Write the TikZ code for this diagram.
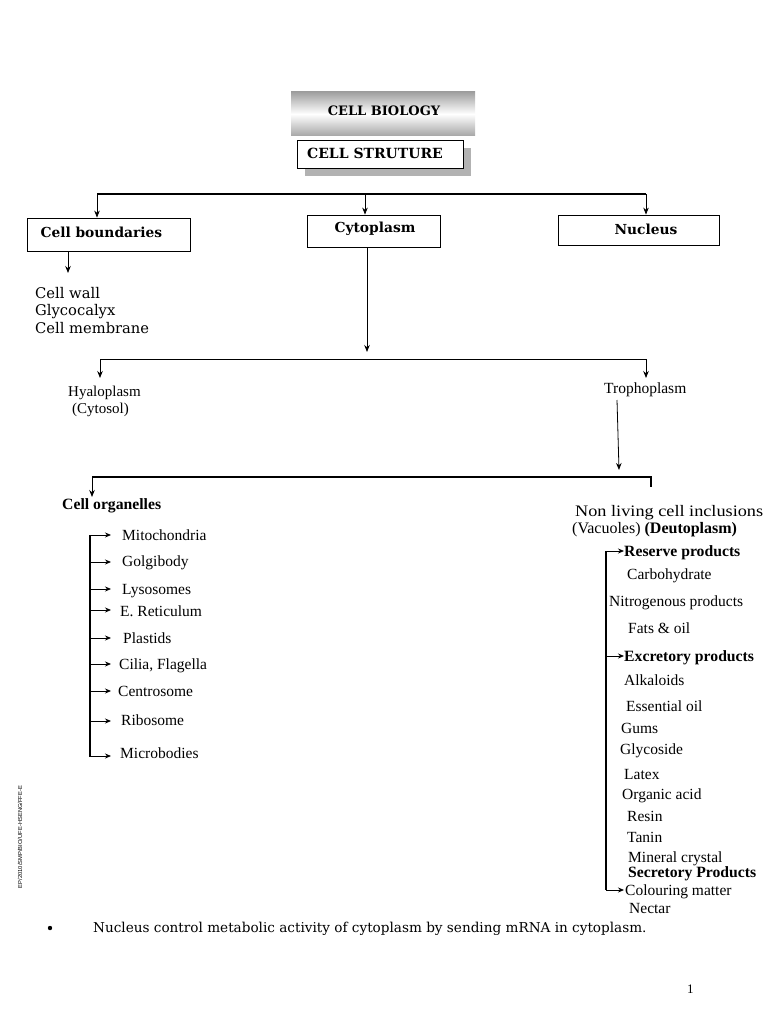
\documentclass[tikz,border=0pt]{standalone}
\usepackage{fontspec}
\usepackage{graphicx}
\setmainfont{Liberation Serif}
\newfontfamily\bk{DejaVu Serif}
\newfontfamily\sidefont{Liberation Sans}
\usetikzlibrary{arrows.meta,calc}
\begin{document}
\begin{tikzpicture}[x=1pt,y=-1pt,
  box/.style={draw,line width=0.8pt,inner sep=0pt},
  arr/.style={-{Stealth[length=7pt,width=5.5pt]},line width=0.8pt},
  sarr/.style={-{Stealth[length=6pt,width=5pt]},line width=0.8pt},
  heavy/.style={line width=1.6pt},
  txt/.style={anchor=base west,inner sep=0pt,font=\fontsize{15.5}{17}\selectfont},
  btxt/.style={txt,font=\fontsize{15.7}{17}\selectfont\bfseries},
  bkt/.style={anchor=base west,inner sep=0pt,font=\bk\fontsize{14.7}{16}\selectfont},
  hd/.style={font=\bk\bfseries\fontsize{13.8}{16}\selectfont}]
\useasboundingbox (0,0) rectangle (768,1024);
% title
\shade[top color=gray!75,bottom color=gray!70,middle color=white] (291,92) rectangle (475,136);
\node[hd,font=\bk\bfseries\fontsize{13}{15}\selectfont] (title) at (384,111) {CELL BIOLOGY};
\fill[gray!60] (305,148) rectangle (471,176);
\node[box,fill=white,minimum width=166pt,minimum height=28pt] (struct) at (380,154) {};
\node[hd,font=\bk\bfseries\fontsize{14}{16}\selectfont] at (375,153) {CELL STRUTURE};
% level 1
\node[box,minimum width=163pt,minimum height=33pt] (cb) at (108.5,234.5) {};
\node[hd,anchor=west] at (37,232) {Cell boundaries};
\node[box,minimum width=133pt,minimum height=32pt] (cy) at (373.5,231) {};
\node[hd] at (375,229) {Cytoplasm};
\node[box,minimum width=161pt,minimum height=30pt] (nu) at (638.5,230) {};
\node[hd] at (646,229) {Nucleus};
\coordinate (t1) at (97,194);
\coordinate (t2) at (365,194);
\coordinate (t3) at (646,194);
\draw[heavy] (t1) -- (t3);
\draw[arr] (t1) -- (t1 |- cb.north);
\draw[arr] (t2) -- (t2 |- cy.north);
\draw[arr] (t3) -- (t3 |- nu.north);
% cell boundaries list
\coordinate (cbe) at (68,273);
\draw[arr] (cbe |- cb.south) -- (cbe);
\node[bkt] (cw) at (35,298) {Cell wall};
\node[bkt] (gc) at (35,315) {Glycocalyx};
\node[bkt] (cm) at (35,333) {Cell membrane};
% cytoplasm split
\coordinate (c1) at (367,352);
\draw[arr] (c1 |- cy.south) -- (c1);
\coordinate (h0) at (100,359);
\coordinate (h1) at (646,359);
\draw[line width=0.8pt] (h0) -- (h1);
\node[txt,font=\fontsize{15}{17}\selectfont] (hy) at (68,396) {Hyaloplasm};
\node[txt,font=\fontsize{15}{17}\selectfont] (cs) at (72,413) {(Cytosol)};
\node[txt] (tro) at (604,393) {Trophoplasm};
\draw[arr] (h0) -- (100,378);
\draw[arr] (h1) -- (646,378);
% trophoplasm split
\coordinate (p0) at (92,477);
\coordinate (p1) at (651,477);
\coordinate (tra) at (619,470);
\draw[arr] (617,400) -- (tra);
\draw[line width=1.2pt] (p0) -- (p1) -- (651,487);
\draw[arr] (p0) -- (92,497);
\node[btxt] (co) at (62,509) {Cell organelles};
\node[txt,font=\fontsize{16}{18}\selectfont] (nl) at (575,516) {\scalebox{1.14}[1]{Non living cell inclusions}};
\node[txt,font=\fontsize{16}{18}\selectfont] (va) at (572,533) {(Vacuoles) \textbf{(Deutoplasm)}};
% organelles
\draw[line width=1.2pt] (90,535) -- (90,757);
\foreach \yy/\xx/\t/\n in {540/122/Mitochondria/o1,566/122/Golgibody/o2,594/122/Lysosomes/o3,616/120/E. Reticulum/o4,643/123/Plastids/o5,669/119/{Cilia, Flagella}/o6,696/118/Centrosome/o7,725/121/Ribosome/o8,758/120/Microbodies/o9}{
  \node[txt] (\n) at (\xx,\yy) {\t};
}
\foreach \yy in {535,562,589,610,638,664,691,721,756}{
  \draw[sarr] (90,\yy) -- (111,\yy);
}
% inclusions
\draw[line width=1.2pt] (606,551) -- (606,890);
\foreach \yy in {551,656,890}{
  \draw[sarr] (606,\yy) -- (624,\yy);
}
\node[btxt] (r1) at (624,556) {Reserve products};
\node[txt] (r2) at (627,579) {Carbohydrate};
\node[txt] (r3) at (609,606) {Nitrogenous products};
\node[txt] (r4) at (628,633) {Fats \& oil};
\node[btxt] (e1) at (624,661) {Excretory products};
\node[txt] (e2) at (624,685) {Alkaloids};
\node[txt] (e3) at (626,711) {Essential oil};
\node[txt] (e4) at (621,733) {Gums};
\node[txt] (e5) at (620,754) {Glycoside};
\node[txt] (e6) at (624,779) {Latex};
\node[txt] (e7) at (622,799) {Organic acid};
\node[txt] (e8) at (627,821) {Resin};
\node[txt] (e9) at (627,842) {Tanin};
\node[txt] (e10) at (628,862) {Mineral crystal};
\node[btxt] (s1) at (628,877) {Secretory Products};
\node[txt] (s2) at (625,895) {Colouring matter};
\node[txt] (s3) at (629,913) {Nectar};
% footer
\node[rotate=90,inner sep=0pt,font=\sidefont\fontsize{5.8}{7}\selectfont] (side) at (20,837) {EP/2010/SMP/BIO/UFE-HSENG/FFE-E};
\fill (50,928) circle (2.2pt);
\node[bkt,font=\bk\fontsize{13.6}{15}\selectfont] (note) at (93,932) {Nucleus control metabolic activity of cytoplasm by sending mRNA in cytoplasm.};
\node[txt,font=\fontsize{13}{15}\selectfont] (pg) at (687,993) {1};
\end{tikzpicture}
\end{document}
